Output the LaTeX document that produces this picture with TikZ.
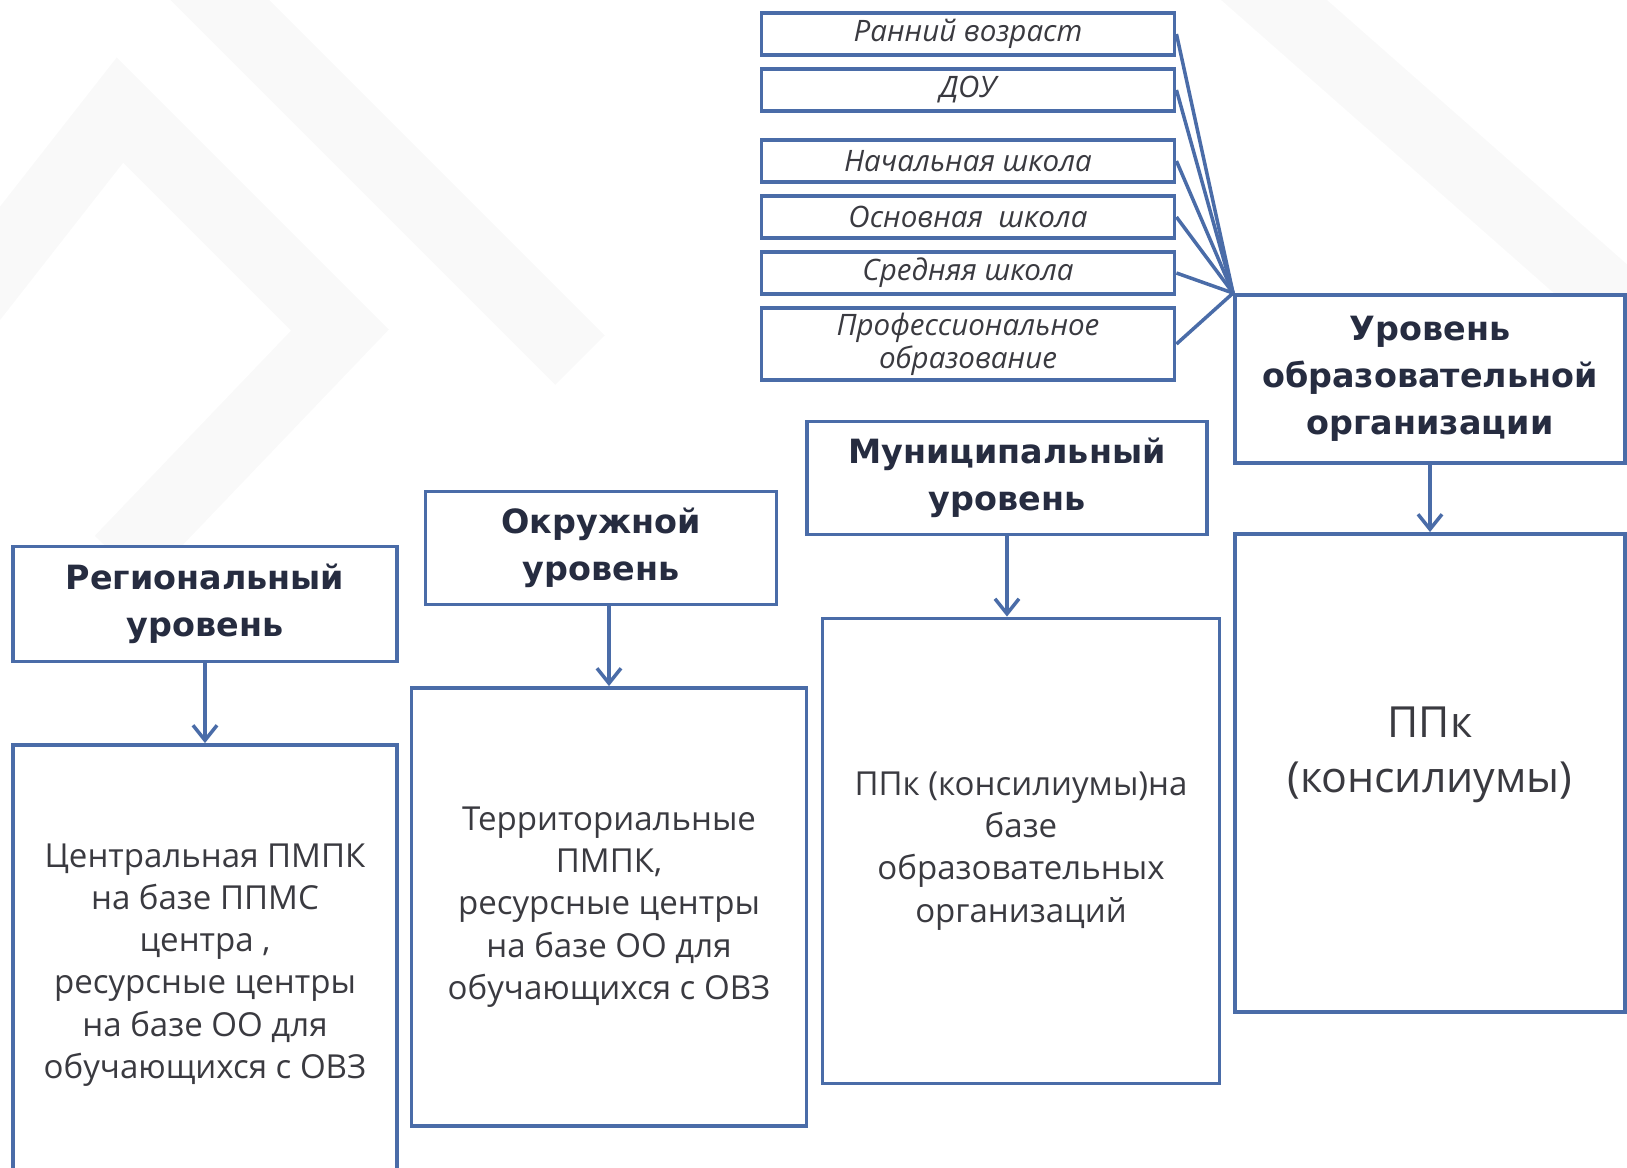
\documentclass[tikz,border=0pt]{standalone}
\usepackage{fontspec}
\setmainfont{Open Sans}
\newfontfamily\headfont{DejaVu Sans}
\usetikzlibrary{arrows.meta, positioning}
\definecolor{boxblue}{RGB}{74,108,168}
\definecolor{headtext}{RGB}{38,44,64}
\definecolor{bodytext}{RGB}{58,58,64}
\tikzset{
    agebox/.style={
        draw=boxblue,
        line width=1.1pt,
        fill=white,
        minimum width=41.3mm,
        minimum height=4.2mm,
        inner sep=0pt,
        align=center,
        text=bodytext,
        font=\itshape\fontsize{8.4}{9.4}\selectfont
    },
    levelbox/.style={
        draw=boxblue,
        line width=1.1pt,
        fill=white,
        inner sep=0pt,
        align=center,
        text=headtext,
        font=\headfont\bfseries\fontsize{9.5}{13.3}\selectfont
    },
    bodybox/.style={
        draw=boxblue,
        line width=1.1pt,
        fill=white,
        inner sep=0pt,
        align=center,
        text=bodytext,
        font=\fontsize{9.4}{12}\selectfont
    },
    bigtext/.style={align=center, text=bodytext, font=\fontsize{12.2}{15.6}\selectfont},
    line/.style={draw=boxblue, line width=1pt},
    arrow/.style={line, -{Straight Barb[length=1.5mm, width=2.4mm]}},
    bgband/.style={draw=black!2.5, line width=7mm}
}

\begin{document}
\begin{tikzpicture}[x=0.1mm, y=-0.1mm]
\useasboundingbox (0,0) rectangle (1627,1167);
\clip (0,0) rectangle (1627,1167);

% faint background
\draw[bgband] (-60,340) -- (120,110) -- (340,330) -- (120,560);
\draw[bgband] (190,-30) -- (580,360);
\draw[bgband] (1240,-30) -- (1660,340);

% age groups
\node[agebox] (early) at (968,34) {Ранний возраст};
\node[agebox] (dou) at (968,90) {ДОУ};
\node[agebox] (primary) at (968,161) {Начальная школа};
\node[agebox] (basic) at (968,217) {Основная\ \ школа};
\node[agebox] (secondary) at (968,273) {Средняя школа};
\node[agebox, minimum height=7.2mm] (prof) at (968,344) {Профессиональное\\образование};

% levels
\node[levelbox, minimum width=39mm, minimum height=16.8mm] (org) at (1430,379) {Уровень\\образовательной\\организации};
\node[levelbox, minimum width=38.4mm, minimum height=11.5mm] (region) at (205,604) {Региональный\\уровень};
\node[levelbox, minimum width=35.1mm, minimum height=11.3mm] (district) at (601,548) {Окружной\\уровень};
\node[levelbox, minimum width=40mm, minimum height=11.3mm] (municipal) at (1007,478) {Муниципальный\\уровень};

% services
\node[bodybox, minimum width=39mm, minimum height=47.8mm] (orgppk) at (1430,773) {};
\node[bigtext] (orgppktext) at (1430,755) {ППк\\(консилиумы)};
\node[bodybox, minimum width=38.4mm, minimum height=44mm] (central) at (205,965) {Центральная ПМПК\\на базе ППМС\\центра ,\\ресурсные центры\\на базе ОО для\\обучающихся с ОВЗ};
\node[bodybox, minimum width=39.5mm, minimum height=43.8mm] (territory) at (609,907) {Территориальные\\ПМПК,\\ресурсные центры\\на базе ОО для\\обучающихся с ОВЗ};
\node[bodybox, minimum width=39.7mm, minimum height=46.5mm] (munppk) at (1021,851) {ППк (консилиумы)на\\базе\\образовательных\\организаций};

\foreach \src in {early, dou, primary, basic, secondary, prof}
    \draw[line] (\src.east) -- (org.north west);

\draw[arrow] (region.south) -- (central.north);
\draw[arrow] (territory.north |- district.south) -- (territory.north);
\draw[arrow] (municipal.south) -- (municipal.south |- munppk.north);
\draw[arrow] (org.south) -- (orgppk.north);
\end{tikzpicture}
\end{document}
